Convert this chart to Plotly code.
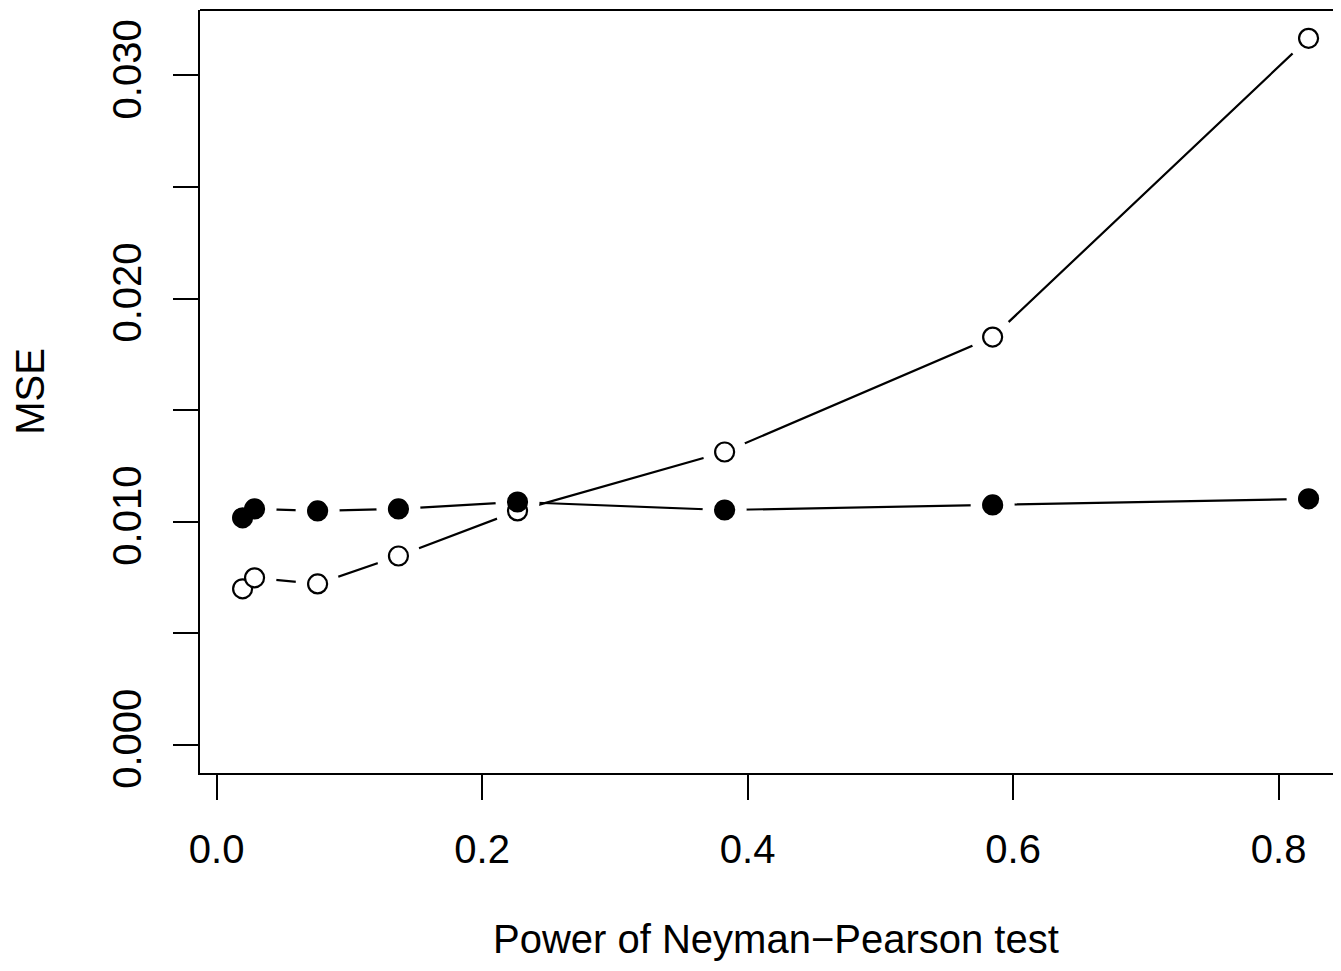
import plotly.graph_objects as go

power = [0.0196, 0.0286, 0.0761, 0.137, 0.2267, 0.3827, 0.5846, 0.8226]
mse_open = [0.00699, 0.00748, 0.00721, 0.00846, 0.01048, 0.01312, 0.01827, 0.03166]
mse_filled = [0.01017, 0.01057, 0.01048, 0.01057, 0.01088, 0.01052, 0.01075, 0.01102]

x_ticks = [0.0, 0.2, 0.4, 0.6, 0.8]
x_ticklabels = ["0.0", "0.2", "0.4", "0.6", "0.8"]
y_ticks = [0.0, 0.005, 0.010, 0.015, 0.020, 0.025, 0.030]
y_ticklabels = ["0.000", "", "0.010", "", "0.020", "", "0.030"]
x_title = "Power of Neyman\u2212Pearson test"
y_title = "MSE"

FONT = "Liberation Sans, Arial, Helvetica, sans-serif"
FS = 40

fig = go.Figure()
# connecting lines
for ys in (mse_open, mse_filled):
    fig.add_trace(go.Scatter(x=power, y=ys, mode="lines",
                             line=dict(color="black", width=2.2),
                             hoverinfo="skip", showlegend=False))
# white masks to create R type="b" gaps
for ys in (mse_open, mse_filled):
    fig.add_trace(go.Scatter(x=power, y=ys, mode="markers",
                             marker=dict(size=44, color="white", line=dict(width=0)),
                             hoverinfo="skip", showlegend=False))
# points
fig.add_trace(go.Scatter(x=power, y=mse_open, mode="markers",
                         marker=dict(size=19, color="white", line=dict(color="black", width=2.2)),
                         showlegend=False))
fig.add_trace(go.Scatter(x=power, y=mse_filled, mode="markers",
                         marker=dict(size=19, color="black", line=dict(color="black", width=2.2)),
                         showlegend=False))

fig.add_shape(type="line", xref="paper", yref="paper", x0=0, x1=1.02, y0=1, y1=1,
              line=dict(color="black", width=2.2))

fig.add_annotation(text=x_title, xref="paper", yref="paper", x=0.508, y=-0.2176,
                   xanchor="center", yanchor="middle", showarrow=False,
                   font=dict(family=FONT, size=FS, color="black"))

fig.update_layout(
    width=1325, height=955,
    margin=dict(l=192, r=0, t=2, b=190),
    paper_bgcolor="white", plot_bgcolor="white",
    font=dict(family=FONT, size=FS, color="black"),
    showlegend=False,
)
fig.update_xaxes(
    range=[-0.0125, 0.841], tickvals=x_ticks, ticktext=x_ticklabels,
    ticks="outside", ticklen=25, tickwidth=2.2, tickcolor="black",
    showline=True, linecolor="black", linewidth=2.2,
    showgrid=False, zeroline=False, automargin=False,
    ticklabelstandoff=15,
)
fig.update_yaxes(
    range=[-0.001266, 0.03293], tickvals=y_ticks, ticktext=y_ticklabels,
    ticks="outside", ticklen=25, tickwidth=2.2, tickcolor="black",
    showline=True, linecolor="black", linewidth=2.2,
    showgrid=False, zeroline=False, automargin=False,
    tickangle=-90, ticklabelstandoff=16,
    title=dict(text=y_title, standoff=52, font=dict(family=FONT, size=FS)),
)

fig.write_html("out.html")
